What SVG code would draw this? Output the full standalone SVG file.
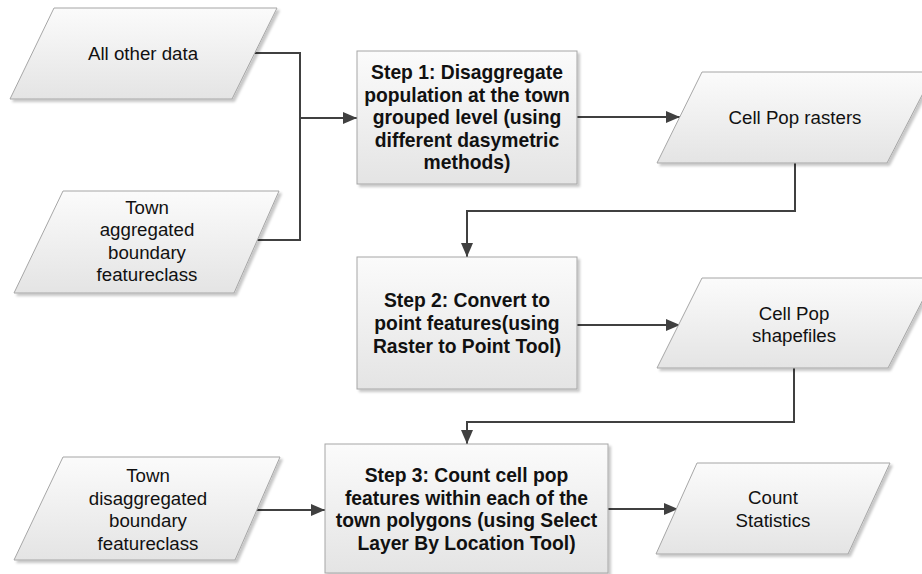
<svg xmlns="http://www.w3.org/2000/svg" width="922" height="574" viewBox="0 0 922 574">
<defs>
<linearGradient id="g" x1="0" y1="0" x2="0" y2="1">
<stop offset="0" stop-color="#fbfbfb"/>
<stop offset="1" stop-color="#e4e4e4"/>
</linearGradient>
<filter id="sh" x="-10%" y="-10%" width="130%" height="130%">
<feDropShadow dx="2.5" dy="2.5" stdDeviation="1" flood-color="#000" flood-opacity="0.22"/>
</filter>
<marker id="ah" markerWidth="14" markerHeight="12" refX="14" refY="6" orient="auto" markerUnits="userSpaceOnUse">
<path d="M0,0 L14,6 L0,12 Z" fill="#404040"/>
</marker>
</defs>
<style>
.shape{fill:url(#g);stroke:#a6a6a6;stroke-width:1;filter:url(#sh);}
.t{font-family:"Liberation Sans",Arial,sans-serif;font-size:18.7px;fill:#111;text-anchor:middle;}
.b{font-family:"Liberation Sans",Arial,sans-serif;font-size:19.3px;font-weight:bold;fill:#111;text-anchor:middle;}
.c{fill:none;stroke:#404040;stroke-width:2;}
</style>

<g id="connectors">
<path class="c" d="M255,53 H300 V240 H255"/>
<path class="c" d="M300,118 H357" marker-end="url(#ah)"/>
<path class="c" d="M577,117 H680" marker-end="url(#ah)"/>
<path class="c" d="M795,163 V211 H467 V257" marker-end="url(#ah)"/>
<path class="c" d="M577,325 H680" marker-end="url(#ah)"/>
<path class="c" d="M794,368 V422 H467 V444" marker-end="url(#ah)"/>
<path class="c" d="M256,510 H325" marker-end="url(#ah)"/>
<path class="c" d="M608,509 H678" marker-end="url(#ah)"/>
</g>

<g id="all-other-data">
<polygon class="shape" points="54,8 277,8 232,99 10,99"/>
<text class="t" x="143" y="60">All other data</text>
</g>

<g id="town-aggregated">
<polygon class="shape" points="63,191 279,191 234,293 14,293"/>
<text class="t" x="147" y="213.5">Town</text>
<text class="t" x="147" y="236">aggregated</text>
<text class="t" x="147" y="258.5">boundary</text>
<text class="t" x="147" y="281">featureclass</text>
</g>

<g id="step1">
<rect class="shape" x="357" y="51" width="220" height="133"/>
<text class="b" x="467" y="79">Step 1: Disaggregate</text>
<text class="b" x="467" y="101.5">population at the town</text>
<text class="b" x="467" y="124">grouped level (using</text>
<text class="b" x="467" y="146.5">different dasymetric</text>
<text class="b" x="467" y="169">methods)</text>
</g>

<g id="cell-pop-rasters">
<polygon class="shape" points="702,72 934,72 887,163 657,163"/>
<text class="t" x="795" y="124">Cell Pop rasters</text>
</g>

<g id="step2">
<rect class="shape" x="357" y="257" width="220" height="132"/>
<text class="b" x="467" y="307">Step 2: Convert to</text>
<text class="b" x="467" y="330">point features(using</text>
<text class="b" x="467" y="353">Raster to Point Tool)</text>
</g>

<g id="cell-pop-shapefiles">
<polygon class="shape" points="702,278 934,278 888,368 657,368"/>
<text class="t" x="794" y="320">Cell Pop</text>
<text class="t" x="794" y="342">shapefiles</text>
</g>

<g id="town-disaggregated">
<polygon class="shape" points="63,457 280,457 235,560 14,560"/>
<text class="t" x="148" y="482">Town</text>
<text class="t" x="148" y="504.5">disaggregated</text>
<text class="t" x="148" y="527">boundary</text>
<text class="t" x="148" y="549.5">featureclass</text>
</g>

<g id="step3">
<rect class="shape" x="325" y="444" width="283" height="129"/>
<text class="b" x="466.5" y="482">Step 3: Count cell pop</text>
<text class="b" x="466.5" y="505">features within each of the</text>
<text class="b" x="466.5" y="527">town polygons (using Select</text>
<text class="b" x="466.5" y="550">Layer By Location Tool)</text>
</g>

<g id="count-statistics">
<polygon class="shape" points="697,463 890,463 848,554 656,554"/>
<text class="t" x="773" y="504">Count</text>
<text class="t" x="773" y="527">Statistics</text>
</g>
</svg>
